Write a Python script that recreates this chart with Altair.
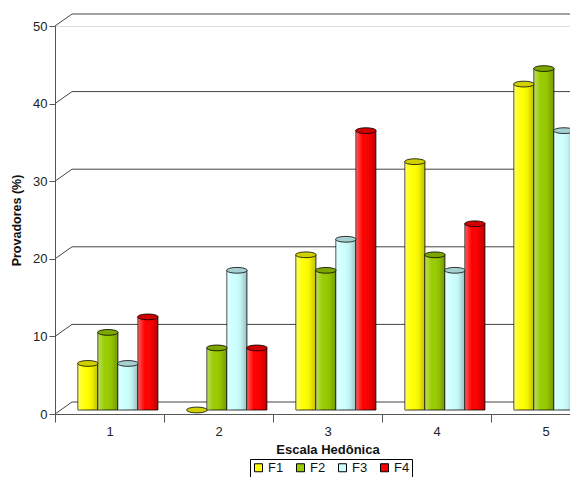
import altair as alt
import pandas as pd

categories = ["1", "2", "3", "4", "5"]
series = ["F1", "F2", "F3", "F4"]
F1 = [6, 0, 20, 32, 42]
F2 = [10, 8, 18, 20, 44]
F3 = [6, 18, 22, 18, 36]
F4 = [12, 8, 36, 24, 20]
y_ticks = [0, 10, 20, 30, 40, 50]
colors = ["#FFFF00", "#99CC00", "#CCFFFF", "#FF0000"]

rows = []
for s, vals in zip(series, [F1, F2, F3, F4]):
    for c, v in zip(categories, vals):
        rows.append({"cat": c, "series": s, "value": v})
df = pd.DataFrame(rows)
grid_df = pd.DataFrame({"value": y_ticks})

FONT = "Liberation Sans"
DEPTH_X = 17
DEPTH_Y = -12

y_enc = alt.Y("value:Q", scale=alt.Scale(domain=[0, 50], nice=False),
              axis=alt.Axis(title="Provadores (%)", values=y_ticks, grid=False,
                            tickSize=6, domainColor="#555", tickColor="#555",
                            labelFontSize=13, labelColor="#222", labelPadding=2,
                            titleFontSize=12.5, titleFontWeight="bold", titleColor="#111",
                            titlePadding=9, labelFont=FONT, titleFont=FONT))

x_enc = alt.X("cat:N", sort=categories,
              scale=alt.Scale(range=[0, 545], paddingInner=0, paddingOuter=0),
              axis=alt.Axis(title="Escala Hedônica", labelAngle=0, tickBand="extent",
                            tickSize=8, domainColor="#555", tickColor="#555",
                            labelFontSize=13, labelColor="#222", labelPadding=3,
                            titleFontSize=13, titleFontWeight="bold", titleColor="#111",
                            titlePadding=5, labelFont=FONT, titleFont=FONT))

xo_enc = alt.XOffset("series:N", sort=series,
                     scale=alt.Scale(paddingInner=0, paddingOuter=0.725, align=0.79))

legend = alt.Legend(title=None, orient="none", legendX=195, legendY=433,
                    direction="horizontal", columns=4, strokeColor="#000",
                    fillColor="white", padding=2, symbolType="square", symbolSize=64,
                    symbolStrokeColor="#000", symbolStrokeWidth=1,
                    labelFontSize=13, labelFont=FONT, labelColor="#111",
                    columnPadding=10, labelOffset=3)

color_enc = alt.Color("series:N", sort=series,
                      scale=alt.Scale(domain=series, range=colors), legend=legend)

grid = alt.Chart(grid_df).mark_rule(color="#444", strokeWidth=1, yOffset=DEPTH_Y,
                                    y2Offset=DEPTH_Y).encode(
    y=alt.Y("value:Q"), x=alt.value(DEPTH_X), x2=alt.value(545))

diag = alt.Chart(grid_df).mark_rule(color="#444", strokeWidth=1, y2Offset=DEPTH_Y).encode(
    y=alt.Y("value:Q"), y2=alt.Y2("value"), x=alt.value(0), x2=alt.value(DEPTH_X))

bars = alt.Chart(df).mark_bar(stroke="#000", strokeWidth=0.8, yOffset=-4,
                              y2Offset=-4).encode(
    x=x_enc, xOffset=xo_enc, y=y_enc, color=color_enc)

shade = alt.Chart(df).mark_bar(
    yOffset=-4, y2Offset=-4,
    color=alt.LinearGradient(
        gradient="linear", x1=0, x2=1, y1=0, y2=0,
        stops=[alt.GradientStop(color="rgba(255,255,255,0.35)", offset=0),
               alt.GradientStop(color="rgba(255,255,255,0)", offset=0.35),
               alt.GradientStop(color="rgba(0,0,0,0.06)", offset=0.7),
               alt.GradientStop(color="rgba(0,0,0,0.25)", offset=1)])
).encode(x=alt.X("cat:N", sort=categories), xOffset=alt.XOffset("series:N", sort=series),
         y=alt.Y("value:Q"))

ELLIPSE = "M-1,0A1,0.28,0,1,1,1,0A1,0.28,0,1,1,-1,0Z"
caps = alt.Chart(df).mark_point(shape=ELLIPSE, size=420, filled=True, opacity=1,
                                stroke="#000", strokeWidth=0.8, yOffset=-4).encode(
    x=alt.X("cat:N", sort=categories), xOffset=alt.XOffset("series:N", sort=series),
    y=alt.Y("value:Q"), color=color_enc)

caps_dark = alt.Chart(df).mark_point(shape=ELLIPSE, size=420, filled=True, opacity=1,
                                     color="rgba(0,0,0,0.18)", yOffset=-4).encode(
    x=alt.X("cat:N", sort=categories), xOffset=alt.XOffset("series:N", sort=series),
    y=alt.Y("value:Q"))

chart = alt.layer(grid, diag, bars, shade, caps, caps_dark).properties(
    width=515, height=388,
    autosize=alt.AutoSizeParams(type="none"),
    padding={"left": 47, "top": 18, "right": 0, "bottom": 63},
).configure_view(stroke=None).configure(font=FONT)

chart.save("out.html", embed_options={"renderer": "svg", "actions": False})
